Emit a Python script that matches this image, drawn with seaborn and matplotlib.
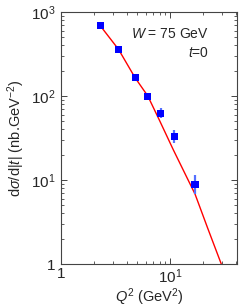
import numpy as np
import pandas as pd
import seaborn as sns
import matplotlib.pyplot as plt
from matplotlib.ticker import LogLocator, NullFormatter

# data points
q2_data = [2.28, 3.36, 4.77, 6.24, 8.2, 10.9, 16.9]
xs_data = [687, 360, 165, 99, 62, 33, 8.9]
err_lo = [40, 25, 14, 9, 8, 5.5, 2.0]
err_hi = [40, 25, 14, 9, 9, 6.5, 2.5]

# theory curve
q2_line = [2.28, 3.36, 4.77, 6.24, 8.0, 10.7, 16.9, 22.0, 29.4, 35.0]
xs_line = [690, 360, 165, 100, 51, 22.8, 6.8, 2.7, 1.0, 0.53]

sns.set_style("ticks")
plt.rcParams['font.family'] = ['Liberation Sans', 'DejaVu Sans']
plt.rcParams['mathtext.fontset'] = 'custom'
plt.rcParams['mathtext.rm'] = 'Liberation Sans'
plt.rcParams['mathtext.it'] = 'Liberation Sans:italic'

fig = plt.figure(figsize=(2.49, 3.07), dpi=100)
ax = fig.add_axes([0.245, 0.140, 0.707, 0.821])

line_df = pd.DataFrame({"Q2": q2_line, "xs": xs_line})
pts_df = pd.DataFrame({"Q2": q2_data, "xs": xs_data})

sns.lineplot(data=line_df, x="Q2", y="xs", color="#ff0000", lw=1.0, ax=ax)
ax.errorbar(q2_data, xs_data, yerr=[err_lo, err_hi], fmt="none",
            ecolor="#5570ff", elinewidth=1.6, capsize=0)
sns.scatterplot(data=pts_df, x="Q2", y="xs", marker="s", color="#0000ff",
                s=26, edgecolor="none", ax=ax, zorder=5)

ax.set_xscale("log")
ax.set_yscale("log")
ax.set_xlim(1, 41)
ax.set_ylim(1, 1000)

ax.set_xticks([1, 10])
ax.set_xticklabels(["1", r"$10^1$"])
ax.set_yticks([1, 10, 100, 1000])
ax.set_yticklabels(["1", r"$10^1$", r"$10^2$", r"$10^3$"])
ax.xaxis.set_minor_locator(LogLocator(base=10, subs=np.arange(2, 10)))
ax.yaxis.set_minor_locator(LogLocator(base=10, subs=np.arange(2, 10)))
ax.xaxis.set_minor_formatter(NullFormatter())
ax.yaxis.set_minor_formatter(NullFormatter())
ax.tick_params(which="both", direction="in", top=True, right=True,
               labelsize=11, color="#444444", pad=4)
ax.tick_params(axis="x", which="major", pad=2.5)
ax.tick_params(which="major", length=4, width=0.7)
ax.tick_params(which="minor", length=2, width=0.6)
for s in ax.spines.values():
    s.set_linewidth(0.8)
    s.set_color("#444444")

ax.set_xlabel(r"$Q^2$ (GeV$^2$)", fontsize=10.5, labelpad=0)
ax.set_ylabel(r"d$\sigma$/d|$t$| (nb.GeV$^{-2}$)", fontsize=10.5, labelpad=3)

ax.text(0.84, 0.895, r"$W$ = 75 GeV", transform=ax.transAxes, ha="right",
        fontsize=10)
ax.text(0.84, 0.82, r"$t$=0", transform=ax.transAxes, ha="right",
        fontsize=10)

fig.savefig("out.png", dpi=100)
